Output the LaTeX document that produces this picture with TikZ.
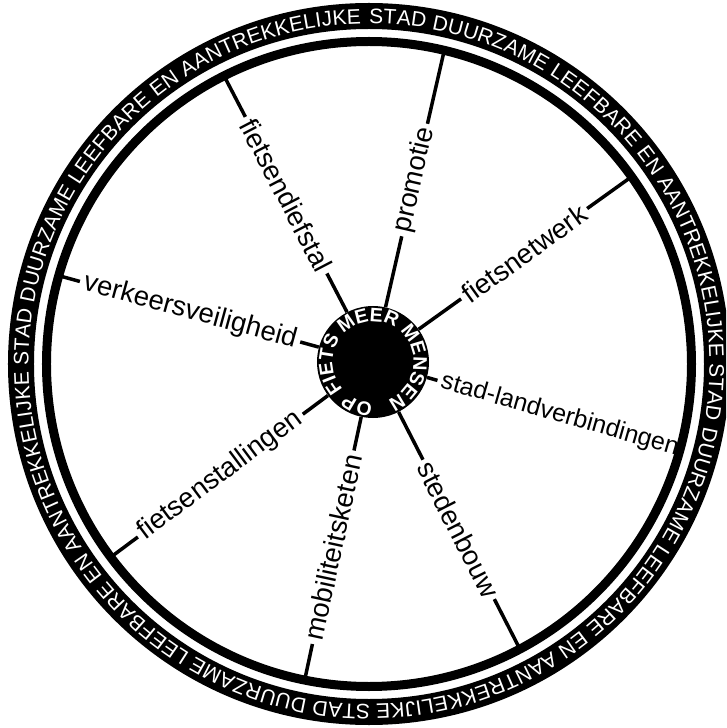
\documentclass[tikz,border=0pt]{standalone}
\usepackage{fontspec}
\setmainfont{Liberation Sans}
\usetikzlibrary{decorations.text}
\begin{document}
\begin{tikzpicture}[x=1pt,y=1pt,
  spoke/.style={line width=3.5pt},
  lbl/.style={font=\fontsize{27.5}{27.5}\selectfont,inner sep=4pt,sloped,midway}]
\useasboundingbox (-369,-364) rectangle (357,364);
\clip (-369,-364) rectangle (357,364);

\draw[line width=26pt] (0,0) circle (348);
\path[decorate,decoration={text along path,text align=fit to path,
  text={|\color{white}\fontsize{21}{21}\selectfont|STAD DUURZAME LEEFBARE EN AANTREKKELIJKE STAD DUURZAME LEEFBARE EN AANTREKKELIJKE STAD DUURZAME LEEFBARE EN AANTREKKELIJKE STAD DUURZAME LEEFBARE EN AANTREKKELIJKE}}]
  (90:340.5) arc[start angle=90,end angle=-268.6,radius=340.5];
\draw[line width=9pt] (0,0) circle (322.5);

\node[circle,fill=black,minimum size=112pt,inner sep=0pt] (hub) at (4,2) {};
\path[decorate,decoration={text along path,text align=center,
  text={|\color{white}\bfseries\fontsize{19.5}{19.5}\selectfont|OP FIETS MEER MENSEN}}]
  ([shift={(hub.center)}]280.5:40.5) arc[start angle=280.5,end angle=-79.5,radius=40.5];

\coordinate (ra) at (116.7:320);
\coordinate (rb) at (76.5:320);
\coordinate (rc) at (35.5:320);
\coordinate (rd) at (-15.4:320);
\coordinate (re) at (-62.1:320);
\coordinate (rf) at (-101.5:320);
\coordinate (rg) at (216.8:320);
\coordinate (rh) at (164.1:320);

\path (hub) -- (ra) node[lbl] (fds) {fietsendiefstal};
\path (hub) -- (rb) node[lbl] (prm) {promotie};
\path (hub) -- (rc) node[lbl] (fnw) {fietsnetwerk};
\path (hub) -- (rd) node[lbl,pos=0.53,font=\fontsize{25}{25}\selectfont] (slv) {stad-landverbindingen};
\path (hub) -- (re) node[lbl] (stb) {stedenbouw};
\path (hub) -- (rf) node[lbl] (mbk) {mobiliteitsketen};
\path (hub) -- (rg) node[lbl] (fst) {fietsenstallingen};
\path (hub) -- (rh) node[lbl] (vkv) {verkeersveiligheid};

\draw[spoke] (hub) -- (fds) (fds) -- (ra);
\draw[spoke] (hub) -- (prm) (prm) -- (rb);
\draw[spoke] (hub) -- (fnw) (fnw) -- (rc);
\draw[spoke] (hub) -- (slv) (slv) -- (rd);
\draw[spoke] (hub) -- (stb) (stb) -- (re);
\draw[spoke] (hub) -- (mbk) (mbk) -- (rf);
\draw[spoke] (hub) -- (fst) (fst) -- (rg);
\draw[spoke] (hub) -- (vkv) (vkv) -- (rh);
\end{tikzpicture}
\end{document}
